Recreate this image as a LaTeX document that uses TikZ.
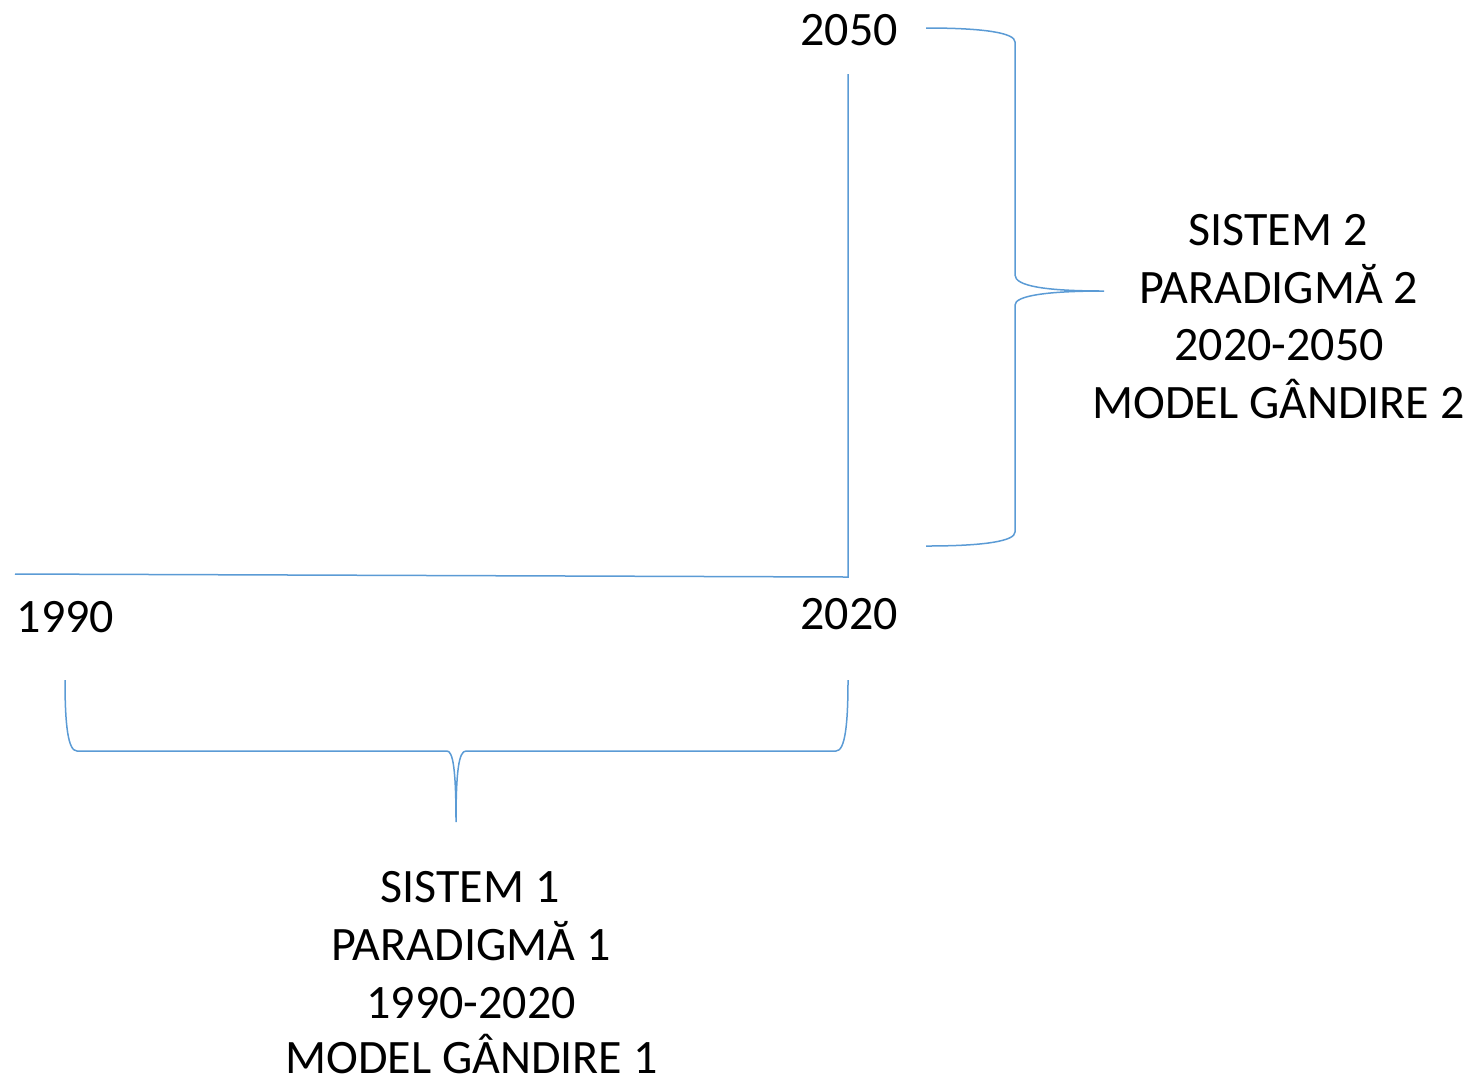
\documentclass[tikz,border=0pt]{standalone}
\usepackage{fontspec}
\setmainfont{Carlito}
\definecolor{lineblue}{HTML}{5B9BD5}
\begin{document}
\begin{tikzpicture}[x=0.5pt,y=-0.5pt,
  lbl/.style={inner sep=0pt,anchor=base,font=\fontsize{24}{28.8}\selectfont},
  conn/.style={draw=lineblue,line width=0.75pt}]
\useasboundingbox (0,0) rectangle (1470,1078);
% axes
\coordinate (top) at (848,74);
\coordinate (corner) at (848,577);
\coordinate (left) at (15,574);
\draw[conn] (top) -- (corner) -- (left);
% labels
\node[lbl] (y2050) at (849,45) {2050};
\node[lbl] (y1990) at (65.5,632) {1990};
\node[lbl] (y2020) at (849,629) {2020};
% right brace
\coordinate (rb1) at (926,28);
\coordinate (rb2) at (1015,42);
\coordinate (rb3) at (1015,275);
\coordinate (rbtip) at (1104,291);
\coordinate (rb4) at (1015,305);
\coordinate (rb5) at (1015,532);
\coordinate (rb6) at (926,546);
\draw[conn] (rb1) .. controls (985,28) and (1015,33) .. (rb2) -- (rb3)
  .. controls (1015,286) and (1045,291) .. (rbtip)
  .. controls (1045,291) and (1015,296) .. (rb4) -- (rb5)
  .. controls (1015,541) and (985,546) .. (rb6);
% bottom brace
\coordinate (bb1) at (65,680);
\coordinate (bb2) at (77,751);
\coordinate (bb3) at (447,751);
\coordinate (bbtip) at (456,822);
\coordinate (bb4) at (466,751);
\coordinate (bb5) at (836,751);
\coordinate (bb6) at (848,680);
\draw[conn] (bb1) .. controls (65,725) and (68,751) .. (bb2) -- (bb3)
  .. controls (453,751) and (456,770) .. (bbtip)
  .. controls (456,770) and (459,751) .. (bb4) -- (bb5)
  .. controls (845,751) and (848,725) .. (bb6);
% right text
\node[lbl] (s2) at (1278,245) {SISTEM 2};
\node[lbl] (p2) at (1278.5,303) {PARADIGMĂ 2};
\node[lbl] (r2) at (1279,360.5) {2020-2050};
\node[lbl] (m2) at (1278.5,418) {MODEL GÂNDIRE 2};
% bottom text
\node[lbl] (s1) at (470,902) {SISTEM 1};
\node[lbl] (p1) at (471,960) {PARADIGMĂ 1};
\node[lbl] (r1) at (471,1018) {1990-2020};
\node[lbl,text depth=0pt] (m1) at (471.5,1073) {MODEL GÂNDIRE 1};
\end{tikzpicture}
\end{document}
